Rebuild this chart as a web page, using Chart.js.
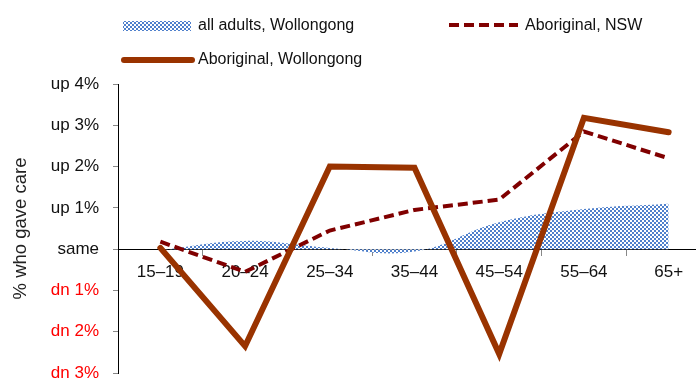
<!DOCTYPE html>
<html>
<head>
<meta charset="utf-8">
<script src="https://cdn.jsdelivr.net/npm/chart.js@4.4.1/dist/chart.umd.min.js"></script>
<style>
  html, body { margin: 0; padding: 0; background: #fff; overflow: hidden; }
  #wrap { position: relative; width: 730px; height: 400px; }
</style>
</head>
<body>
<div id="wrap"><canvas id="main-chart"></canvas></div>
<script>
const ageGroups = ['15–19', '20–24', '25–34', '35–44', '45–54', '55–64', '65+'];
const allAdultsWollongong = [-0.02, 0.2, 0.03, -0.06, 0.65, 0.97, 1.1];
const aboriginalNSW = [0.18, -0.55, 0.45, 0.95, 1.2, 2.85, 2.2];
const aboriginalWollongong = [0.03, -2.35, 2.0, 1.97, -2.54, 3.18, 2.83];
const yTicks = [-3, -2, -1, 0, 1, 2, 3, 4];

const FONT = "'Liberation Sans', Arial, sans-serif";

function makePattern() {
  const c = document.createElement('canvas');
  c.width = 4; c.height = 4;
  const g = c.getContext('2d');
  g.fillStyle = '#ffffff';
  g.fillRect(0, 0, 4, 4);
  g.fillStyle = '#4f80cc';
  g.fillRect(0, 0, 2, 2);
  g.fillRect(2, 2, 2, 2);
  return g.createPattern(c, 'repeat');
}

document.addEventListener("DOMContentLoaded", () => {
  const canvas1 = document.getElementById("main-chart");
  const pattern = makePattern();

  // legend drawn by hand, it is not centred like the Chart.js one
  const customLegend = {
    id: 'customLegend',
    afterDraw(chart) {
      const c = chart.ctx;
      c.save();
      c.font = "16px " + FONT;
      c.textBaseline = 'middle';

      c.fillStyle = pattern;
      c.fillRect(123, 21, 68, 10);
      c.fillStyle = '#111';
      c.fillText('all adults, Wollongong', 198, 26);

      c.strokeStyle = '#800000';
      c.lineWidth = 4;
      c.setLineDash([10, 5]);
      c.beginPath(); c.moveTo(449, 25); c.lineTo(518, 25); c.stroke();
      c.setLineDash([]);
      c.fillText('Aboriginal, NSW', 525, 26);

      c.strokeStyle = '#993300';
      c.lineWidth = 6;
      c.lineCap = 'round';
      c.beginPath(); c.moveTo(124, 60); c.lineTo(192, 60); c.stroke();
      c.fillText('Aboriginal, Wollongong', 198, 60);
      c.restore();
    }
  };

  new Chart(canvas1, {
    type: 'line',
    data: {
      labels: ageGroups,
      datasets: [{
        label: 'Aboriginal, Wollongong',
        data: aboriginalWollongong,
        borderColor: '#993300',
        borderWidth: 6,
        borderCapStyle: 'round',
        borderJoinStyle: 'miter',
        pointRadius: 0,
        tension: 0,
        fill: false,
        order: 0
      }, {
        label: 'Aboriginal, NSW',
        data: aboriginalNSW,
        borderColor: '#800000',
        borderWidth: 4,
        borderDash: [10, 5],
        pointRadius: 0,
        tension: 0,
        fill: false,
        order: 1
      }, {
        label: 'all adults, Wollongong',
        data: allAdultsWollongong,
        borderWidth: 0,
        borderColor: 'rgba(0,0,0,0)',
        backgroundColor: pattern,
        pointRadius: 0,
        tension: 0.4,
        fill: 'origin',
        order: 2
      }]
    },
    options: {
      responsive: true,
      maintainAspectRatio: false,
      animation: false,
      layout: { padding: { left: 0, top: 84, right: 19, bottom: 27 } },
      plugins: {
        legend: { display: false },
        tooltip: { enabled: false }
      },
      scales: {
        x: {
          position: { y: 0 },
          offset: true,
          grid: { offset: true, drawOnChartArea: false, drawTicks: true, tickLength: 6, color: '#888' },
          border: { display: true, color: '#000', width: 1 },
          ticks: { color: '#111', padding: 7, font: { family: FONT, size: 17 }, maxRotation: 0, autoSkip: false },
          afterFit(s) { s.height = 0; }
        },
        y: {
          min: -3,
          max: 4,
          afterBuildTicks(s) { s.ticks = yTicks.map(v => ({ value: v })); },
          grid: { drawOnChartArea: false, drawTicks: true, tickLength: 5, color: '#888' },
          border: { display: true, color: '#000', width: 1 },
          ticks: {
            padding: 14,
            font: { family: FONT, size: 17 },
            color: (c) => c.tick.value < 0 ? '#ff0000' : '#111',
            callback: (v) => v > 0 ? 'up ' + v + '%' : (v < 0 ? 'dn ' + (-v) + '%' : 'same')
          },
          title: {
            display: true,
            text: '% who gave care',
            color: '#222',
            font: { family: FONT, size: 18.5 },
            padding: { top: 10, bottom: 0 }
          },
          afterFit(s) { s.width = 118; }
        }
      }
    },
    plugins: [customLegend]
  });
});
</script>
</body>
</html>
